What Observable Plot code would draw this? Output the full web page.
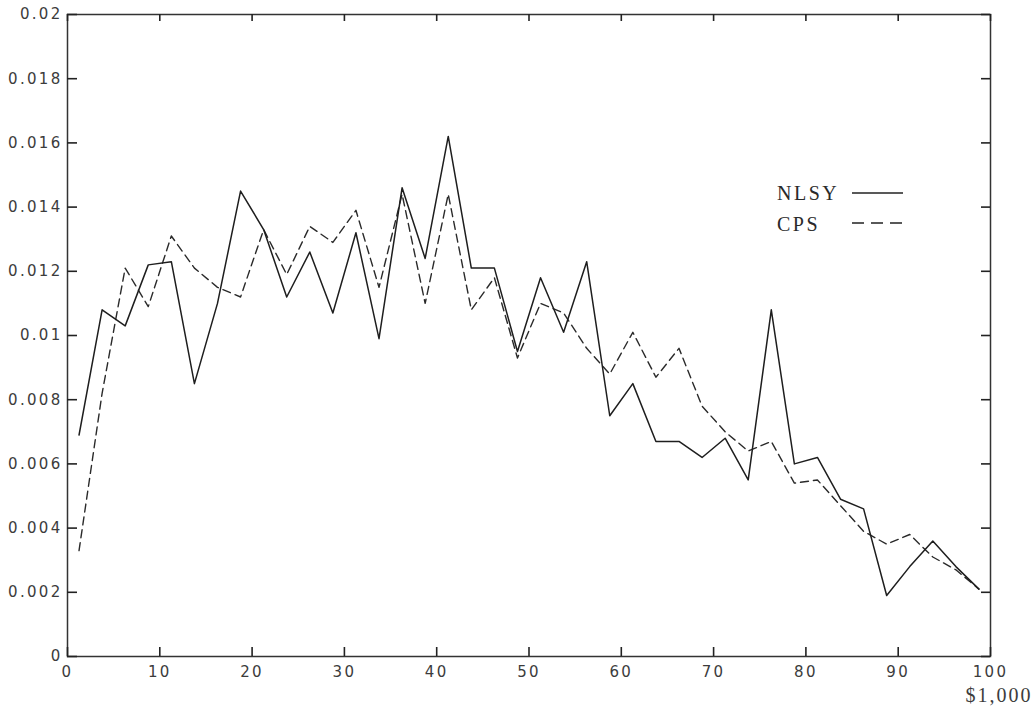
<!DOCTYPE html>
<html>
<head>
<meta charset="utf-8">
<script src="https://cdn.jsdelivr.net/npm/d3@7"></script>
<script src="https://cdn.jsdelivr.net/npm/@observablehq/plot@0.6"></script>
<style>
  html, body { margin: 0; padding: 0; background: #fff; }
  #wrap { position: relative; width: 1034px; height: 711px; }
  #wrap svg { display: block; }
  #wrap g[aria-label="x-axis tick label"] text,
  #wrap g[aria-label="y-axis tick label"] text {
    font-family: 'DejaVu Sans', 'Liberation Sans', sans-serif !important;
    font-size: 15px !important;
    letter-spacing: 2.3px;
    fill: #3c3c3c;
  }
  #legend { position: absolute; pointer-events: none; }
</style>
</head>
<body>
<div id="wrap"></div>
<script>
// Income bins (midpoints, $1,000)
const income = [1.25, 3.75, 6.25, 8.75, 11.25, 13.75, 16.25, 18.75, 21.25, 23.75,
  26.25, 28.75, 31.25, 33.75, 36.25, 38.75, 41.25, 43.75, 46.25, 48.75,
  51.25, 53.75, 56.25, 58.75, 61.25, 63.75, 66.25, 68.75, 71.25, 73.75,
  76.25, 78.75, 81.25, 83.75, 86.25, 88.75, 91.25, 93.75, 96.25, 98.75];

const nlsy = [0.0069, 0.0108, 0.0103, 0.0122, 0.0123, 0.0085, 0.0110, 0.0145, 0.0133, 0.0112,
  0.0126, 0.0107, 0.0132, 0.0099, 0.0146, 0.0124, 0.0162, 0.0121, 0.0121, 0.0095,
  0.0118, 0.0101, 0.0123, 0.0075, 0.0085, 0.0067, 0.0067, 0.0062, 0.0068, 0.0055,
  0.0108, 0.0060, 0.0062, 0.0049, 0.0046, 0.0019, 0.0028, 0.0036, 0.0028, 0.0021];

const cps = [0.0033, 0.0082, 0.0121, 0.0109, 0.0131, 0.0121, 0.0115, 0.0112, 0.0133, 0.0119,
  0.0134, 0.0129, 0.0139, 0.0115, 0.0144, 0.0110, 0.0144, 0.0108, 0.0118, 0.0093,
  0.0110, 0.0107, 0.0096, 0.0088, 0.0101, 0.0087, 0.0096, 0.0078, 0.0070, 0.0064,
  0.0067, 0.0054, 0.0055, 0.0047, 0.0039, 0.0035, 0.0038, 0.0031, 0.0027, 0.0021];

const seriesNames = ["NLSY", "CPS"];
const xTicks = [0, 10, 20, 30, 40, 50, 60, 70, 80, 90, 100];
const yTicks = [0, 0.002, 0.004, 0.006, 0.008, 0.01, 0.012, 0.014, 0.016, 0.018, 0.02];
const xUnitLabel = "$1,000";

const nlsyData = income.map((x, i) => ({x, y: nlsy[i]}));
const cpsData = income.map((x, i) => ({x, y: cps[i]}));

const W = 1034, H = 711, ML = 67, MR = 44, MT = 14, MB = 55;
const tickColor = "#222";
const xDom = [0, 100], yDom = [0, 0.02];
// tick lengths expressed through the scales (pixels -> data units)
const pxX = (xDom[1] - xDom[0]) / (W - ML - MR);
const pxY = (yDom[1] - yDom[0]) / (H - MT - MB);

const chart = Plot.plot({
  width: W,
  height: H,
  marginLeft: ML,
  marginRight: MR,
  marginTop: MT,
  marginBottom: MB,
  style: { background: "#fff", color: "#3c3c3c" },
  x: { domain: xDom },
  y: { domain: yDom },
  marks: [
    Plot.frame({ stroke: "#333", strokeWidth: 1.5 }),
    Plot.axisX({ anchor: "bottom", ticks: xTicks, tickSize: 0, tickPadding: 10,
      tickFormat: d => String(d), label: null }),
    Plot.axisY({ anchor: "left", ticks: yTicks, tickSize: 0, tickPadding: 5,
      tickFormat: d => String(+d.toFixed(3)), label: null }),
    Plot.line(cpsData, { x: "x", y: "y", stroke: "#2a2a2a", strokeWidth: 1.4, strokeDasharray: "8,5" }),
    Plot.line(nlsyData, { x: "x", y: "y", stroke: "#1e1e1e", strokeWidth: 1.5 }),
    // inward tick marks on all four sides
    Plot.ruleX(xTicks, { x: d => d, y1: yDom[0], y2: yDom[0] + 9 * pxY, stroke: tickColor, strokeWidth: 1.6 }),
    Plot.ruleX(xTicks, { x: d => d, y1: yDom[1], y2: yDom[1] - 7 * pxY, stroke: tickColor, strokeWidth: 1.6 }),
    Plot.ruleY(yTicks, { y: d => d, x1: xDom[0], x2: xDom[0] + 10 * pxX, stroke: tickColor, strokeWidth: 1.6 }),
    Plot.ruleY(yTicks, { y: d => d, x1: xDom[1], x2: xDom[1] - 9 * pxX, stroke: tickColor, strokeWidth: 1.6 }),
    Plot.text([xUnitLabel], { text: d => d, frameAnchor: "bottom-right", dx: 42, dy: 45,
      textAnchor: "end", fontFamily: "'Liberation Serif', 'DejaVu Serif', serif", fontSize: 20,
      fill: "#3c3c3c" })
  ]
});

const wrap = document.getElementById("wrap");
wrap.appendChild(chart);
chart.querySelectorAll('text').forEach(t => {
  if (t.textContent === xUnitLabel) t.setAttribute("letter-spacing", "2");
});

// Legend overlay (inside plot area, as in the original)
const ns = "http://www.w3.org/2000/svg";
const leg = document.createElementNS(ns, "svg");
leg.setAttribute("id", "legend");
leg.setAttribute("width", "150");
leg.setAttribute("height", "60");
leg.style.left = "770px";
leg.style.top = "180px";
const legendItems = [
  { name: seriesNames[0], dash: null, ty: 20, ly: 13 },
  { name: seriesNames[1], dash: "12,7", ty: 51, ly: 43 }
];
for (const it of legendItems) {
  const t = document.createElementNS(ns, "text");
  t.setAttribute("x", 7);
  t.setAttribute("y", it.ty);
  t.setAttribute("font-family", "'Liberation Serif', 'DejaVu Serif', serif");
  t.setAttribute("font-size", "20");
  t.setAttribute("letter-spacing", "2.5");
  t.setAttribute("fill", "#2a2a2a");
  t.textContent = it.name;
  leg.appendChild(t);
  const l = document.createElementNS(ns, "line");
  l.setAttribute("x1", 82); l.setAttribute("x2", 133);
  l.setAttribute("y1", it.ly); l.setAttribute("y2", it.ly);
  l.setAttribute("stroke", "#222");
  l.setAttribute("stroke-width", "1.4");
  if (it.dash) l.setAttribute("stroke-dasharray", it.dash);
  leg.appendChild(l);
}
wrap.appendChild(leg);
</script>
</body>
</html>
